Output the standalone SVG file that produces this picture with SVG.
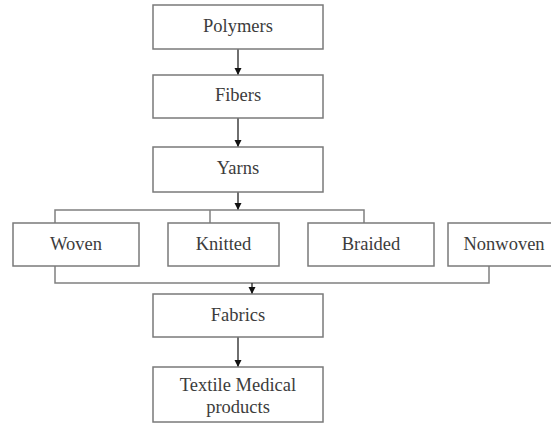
<svg xmlns="http://www.w3.org/2000/svg" width="551" height="425" viewBox="0 0 551 425">
<style>
.box{fill:#fff;stroke:#7a7a7a;stroke-width:1.5}
.t{font-size:18.5px;fill:#3c3c3c;text-anchor:middle}
.ln{stroke:#808080;stroke-width:1.5;fill:none}
.ar{stroke:#222;stroke-width:1.3;fill:none}
</style>
<defs>
<marker id="ah" markerWidth="8" markerHeight="8" refX="7" refY="4" orient="auto" markerUnits="userSpaceOnUse">
<path d="M0,0.5 L7,4 L0,7.5 Z" fill="#111"/>
</marker>
</defs>
<rect width="551" height="425" fill="#fff"/>
<g id="connectors">
<line class="ar" x1="238" y1="49" x2="238" y2="75" marker-end="url(#ah)"/>
<line class="ar" x1="238" y1="118" x2="238" y2="147" marker-end="url(#ah)"/>
<line class="ar" x1="238" y1="192" x2="238" y2="210" marker-end="url(#ah)"/>
<polyline class="ln" points="55,223 55,210 364,210 364,223"/>
<line class="ln" x1="210" y1="210" x2="210" y2="223"/>
<polyline class="ln" points="55,266 55,283 489,283 489,266"/>
<line class="ar" x1="252" y1="283" x2="252" y2="294" marker-end="url(#ah)"/>
<line class="ar" x1="238" y1="337" x2="238" y2="367" marker-end="url(#ah)"/>
</g>
<g font-family="'Liberation Serif', 'Times New Roman', 'DejaVu Serif', serif">
<g id="polymers"><rect class="box" x="153" y="5" width="170" height="44"/><text class="t" x="238" y="32">Polymers</text></g>
<g id="fibers"><rect class="box" x="153" y="75" width="170" height="43"/><text class="t" x="238" y="101">Fibers</text></g>
<g id="yarns"><rect class="box" x="153" y="147" width="170" height="45"/><text class="t" x="238" y="174">Yarns</text></g>
<g id="woven"><rect class="box" x="13" y="223" width="126" height="43"/><text class="t" x="76" y="250">Woven</text></g>
<g id="knitted"><rect class="box" x="168" y="223" width="111" height="43"/><text class="t" x="223.5" y="250">Knitted</text></g>
<g id="braided"><rect class="box" x="308" y="223" width="126" height="43"/><text class="t" x="371" y="250">Braided</text></g>
<g id="nonwoven"><rect class="box" x="448" y="223" width="120" height="43"/><text class="t" x="504" y="250">Nonwoven</text></g>
<g id="fabrics"><rect class="box" x="153" y="294" width="170" height="43"/><text class="t" x="238" y="321">Fabrics</text></g>
<g id="textile"><rect class="box" x="153" y="367" width="170" height="55"/><text class="t" x="238" y="391">Textile Medical</text><text class="t" x="238" y="413">products</text></g>
</g>
</svg>
